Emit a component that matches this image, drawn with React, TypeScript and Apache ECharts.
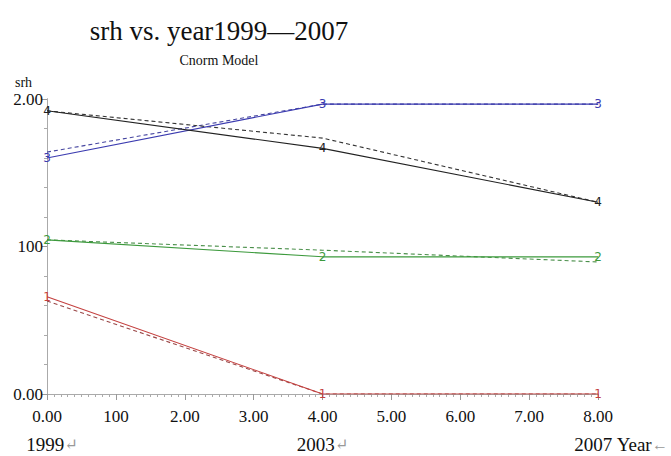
import React, { useEffect, useRef } from "react";
import * as echarts from "echarts";

// x positions (years since 1999)
const xValues = [0, 4, 8];
const yearLabels = ["1999", "2003", "2007"];
const yearSuffixes = ["↵", "↵", " Year←"];

// observed (solid) and model (dashed) srh per group
const group1 = [0.66, 0, 0];
const group1Fit = [0.63, 0, 0];
const group2 = [1.045, 0.93, 0.93];
const group2Fit = [1.045, 0.975, 0.895];
const group3 = [1.6, 1.965, 1.965];
const group3Fit = [1.64, 1.965, 1.965];
const group4 = [1.92, 1.665, 1.3];
const group4Fit = [1.92, 1.735, 1.3];

const groupNames = ["1", "2", "3", "4"];
const colors = ["#c4403f", "#3d9a3d", "#3b3bb0", "#222222"];
const fitColors = ["#9a4848", "#4a8f4a", "#4646a0", "#333333"];

const SERIF = "'Liberation Serif', 'DejaVu Serif', serif";

const fmtTick = (v: number) => (v === 1 ? "100" : v.toFixed(2));

export default function App() {
  const ref = useRef<HTMLDivElement>(null);
  useEffect(() => {
    if (!ref.current) return;
    const chart = echarts.init(ref.current, undefined, { renderer: "svg" });
    const solid = [group1, group2, group3, group4];
    const fits = [group1Fit, group2Fit, group3Fit, group4Fit];
    const series: any[] = [];
    fits.forEach((d, i) => {
      series.push({
        type: "line",
        name: groupNames[i] + " fit",
        data: d.map((v, k) => [xValues[k], v]),
        symbol: "none",
        lineStyle: { color: fitColors[i], width: 1.1, type: [4, 3] },
        z: 2,
      });
    });
    solid.forEach((d, i) => {
      series.push({
        type: "line",
        name: groupNames[i],
        data: d.map((v, k) => [xValues[k], v]),
        symbol: "circle",
        symbolSize: 0.1,
        itemStyle: { color: colors[i] },
        lineStyle: { color: colors[i], width: 1.1 },
        label: {
          show: true,
          position: "inside",
          formatter: groupNames[i],
          color: colors[i],
          fontSize: 12,
          fontFamily: "DejaVu Sans, sans-serif",
        },
        z: 3,
      });
    });

    const yearRich: any = {
      y: { fontFamily: SERIF, fontSize: 19, color: "#111" },
      yl: { fontFamily: SERIF, fontSize: 19, color: "#111", padding: [0, 0, 0, 46] },
      y0: { fontFamily: SERIF, fontSize: 19, color: "#111", padding: [0, 0, 0, 10] },
      w: { fontFamily: SERIF, fontSize: 19, color: "#111" },
      a: { fontFamily: SERIF, fontSize: 16, color: "#999" },
    };

    chart.setOption({
      animation: false,
      title: [
        {
          text: "srh vs. year1999—2007",
          left: 214,
          top: 12,
          textAlign: "center",
          textStyle: { fontFamily: SERIF, fontSize: 27, fontWeight: "normal", color: "#111" },
        },
        {
          text: "Cnorm Model",
          left: 214,
          top: 48,
          textAlign: "center",
          textStyle: { fontFamily: SERIF, fontSize: 14, fontWeight: "normal", color: "#111" },
        },
      ],
      graphic: [
        {
          type: "text",
          left: 15,
          top: 75,
          style: { text: "srh", font: "14px " + SERIF, fill: "#111" },
        },
      ],
      grid: { left: 47, right: 72, top: 99, bottom: 62, containLabel: false },
      xAxis: [
        {
          type: "value",
          min: 0,
          max: 8,
          interval: 1,
          offset: 3,
          axisLine: { show: true, lineStyle: { color: "#999" } },
          axisTick: { show: true, length: 6, lineStyle: { color: "#999" } },
          minorTick: { show: true, splitNumber: 10, length: 3, lineStyle: { color: "#aaa" } },
          splitLine: { show: false },
          axisLabel: { formatter: fmtTick, fontFamily: SERIF, fontSize: 17, color: "#111", margin: 11 },
        },
        {
          type: "value",
          position: "top",
          min: 0,
          max: 8,
          axisLine: { show: true, lineStyle: { color: "#aaa" } },
          axisTick: { show: false },
          axisLabel: { show: false },
          splitLine: { show: false },
        },
        {
          type: "value",
          position: "bottom",
          min: 0,
          max: 8,
          interval: 4,
          offset: 35,
          axisLine: { show: false },
          axisTick: { show: false },
          splitLine: { show: false },
          axisLabel: {
            margin: 6,
            formatter: (v: number) => {
              const i = xValues.indexOf(v);
              if (i < 0) return "";
              const suf = yearSuffixes[i];
              if (suf.startsWith(" ")) {
                return `{yl|${yearLabels[i]}}{w|${suf.replace("←", "")}}{a|←}`;
              }
              return `{${i === 0 ? "y0" : "y"}|${yearLabels[i]}}{a|${suf}}`;
            },
            rich: yearRich,
          },
        },
      ],
      yAxis: [
        {
          type: "value",
          min: 0,
          max: 2,
          interval: 1,
          axisLine: { show: true, lineStyle: { color: "#999" } },
          axisTick: { show: true, length: 5, lineStyle: { color: "#999" } },
          minorTick: { show: true, splitNumber: 5, length: 3, lineStyle: { color: "#aaa" } },
          splitLine: { show: false },
          axisLabel: { formatter: fmtTick, fontFamily: SERIF, fontSize: 17, color: "#111", margin: 4 },
        },
        {
          type: "value",
          position: "right",
          min: 0,
          max: 2,
          axisLine: { show: true, lineStyle: { color: "#aaa" } },
          axisTick: { show: false },
          axisLabel: { show: false },
          splitLine: { show: false },
        },
      ],
      series,
    });
    return () => chart.dispose();
  }, []);
  return (
    <div
      ref={ref}
      style={{ position: "fixed", left: 0, top: 0, width: 671, height: 456, background: "#fff" }}
    />
  );
}
